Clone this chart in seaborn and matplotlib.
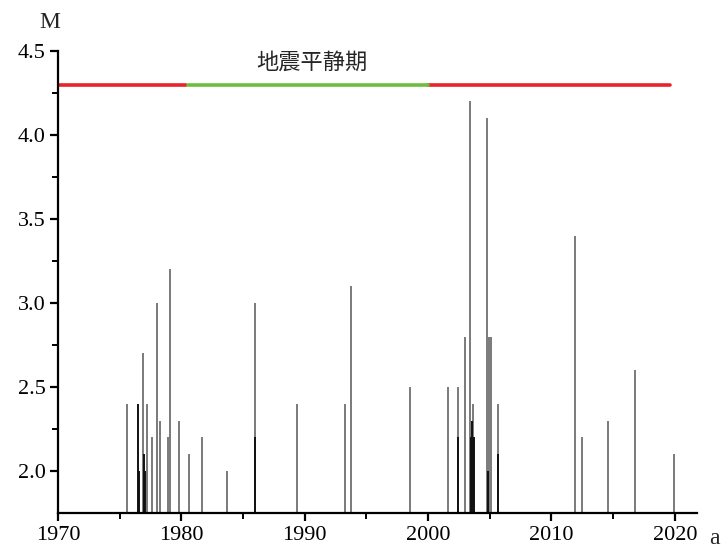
import numpy as np
import pandas as pd
import seaborn as sns
import matplotlib.pyplot as plt

# earthquake events (year, magnitude)
gray_years = [1975.6, 1976.9, 1977.2, 1977.6, 1978.0, 1978.3, 1978.9, 1979.1,
              1979.8, 1980.6, 1981.7, 1983.7, 1986.0, 1989.4, 1993.3, 1993.75,
              1998.5, 2001.6, 2002.45, 2003.0, 2003.4, 2003.6, 2004.8, 2004.95,
              2005.1, 2005.7, 2011.9, 2012.5, 2014.6, 2016.75, 2019.9]
gray_mags = [2.4, 2.7, 2.4, 2.2, 3.0, 2.3, 2.2, 3.2,
             2.3, 2.1, 2.2, 2.0, 3.0, 2.4, 2.4, 3.1,
             2.5, 2.5, 2.5, 2.8, 4.2, 2.4, 4.1, 2.8,
             2.8, 2.4, 3.4, 2.2, 2.3, 2.6, 2.1]

black_years = [1976.5, 1976.6, 1976.95, 1977.05, 1986.0, 2002.4, 2003.45,
               2003.55, 2003.7, 2004.85, 2005.7]
black_mags = [2.4, 2.0, 2.1, 2.0, 2.2, 2.2, 2.2,
              2.3, 2.2, 2.0, 2.1]

# quiet-period bar
period_start = [1970.0, 1980.5, 2000.0]
period_end = [1980.4, 2000.0, 2019.6]
period_kind = ["active", "quiet", "active"]
period_level = 4.3

base = 1.75

sns.set_theme(style="ticks")
plt.rcParams['font.family'] = ['Liberation Serif', 'Noto Sans CJK SC', 'DejaVu Sans']

fig = plt.figure(figsize=(7.27, 5.53), dpi=100)
ax = fig.add_axes([0.0798, 0.0723, 0.879, 0.8355])

ax.vlines(gray_years, base, gray_mags, color="#707070", lw=1.3)
ax.vlines(black_years, base, black_mags, color="#111111", lw=1.4)

rows = []
for i, (s, e, k) in enumerate(zip(period_start, period_end, period_kind)):
    rows.append({"t": s, "M": period_level, "seg": i, "kind": k})
    rows.append({"t": e, "M": period_level, "seg": i, "kind": k})
periods = pd.DataFrame(rows)
sns.lineplot(data=periods, x="t", y="M", units="seg", hue="kind",
             palette={"active": "#e8232b", "quiet": "#6dbe3d"},
             estimator=None, lw=2.6, legend=False, ax=ax)

ax.text(1990.6, 4.435, "地震平静期", ha="center", va="center", fontsize=16,
        family=['Noto Sans CJK SC', 'DejaVu Sans'])

ax.set_xlim(1970, 2021.8)
ax.set_ylim(base, 4.5)
ax.set_xticks([1970, 1980, 1990, 2000, 2010, 2020])
ax.set_xticks(np.arange(1975, 2021, 10), minor=True)
ax.set_yticks([2.0, 2.5, 3.0, 3.5, 4.0, 4.5])
ax.set_yticks(np.arange(2.25, 4.5, 0.5), minor=True)
ax.set_yticklabels(["2.0", "2.5", "3.0", "3.5", "4.0", "4.5"])
ax.set_xlabel("")
ax.set_ylabel("")

sns.despine(ax=ax)
for s in ["left", "bottom"]:
    ax.spines[s].set_linewidth(1.6)
    ax.spines[s].set_color("black")
ax.tick_params(which="major", direction="out", length=6, width=1.6,
               labelsize=16, colors="black", pad=3)
ax.tick_params(which="minor", direction="out", length=4, width=1.4, colors="black")

fig.text(50 / 727, 1 - 22 / 553, "M", ha="center", va="center", fontsize=17)
fig.text(714 / 727, 1 - 539 / 553, "a", ha="center", va="center", fontsize=17)

fig.savefig("out.png", dpi=100)
